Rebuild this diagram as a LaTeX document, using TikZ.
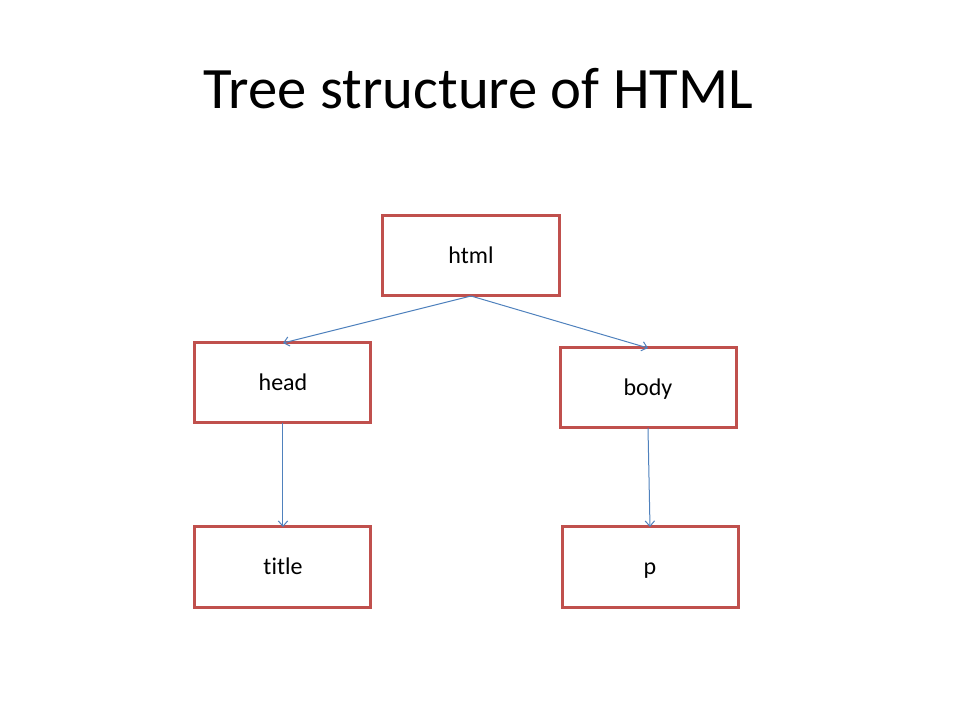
\documentclass[tikz,border=0pt]{standalone}
\usepackage{fontspec}
\setmainfont{Carlito}[Ligatures = NoCommon]
\usetikzlibrary{positioning,arrows.meta}
\definecolor{boxred}{HTML}{C0504D}
\definecolor{lineblue}{HTML}{4F81BD}
\begin{document}
\begin{tikzpicture}[box/.style = {draw = boxred, line width = 2.25pt, outer sep = 0pt, minimum width = 132pt, minimum height = 60pt, inner sep = 0pt, text height = 14pt, text depth = 2.8pt, font = \fontsize{18}{22}\selectfont},
                    link/.style = {draw = lineblue, line width = 0.75pt, -{Straight Barb[length = 4pt, width = 7pt]}}]
                \useasboundingbox (-353.25pt,192pt) rectangle (366.75pt,-348pt);
                \node[anchor = base] (heading) at (5.6pt,110.25pt) {\fontsize{44}{53}\selectfont Tree structure of HTML};
                \node[box] (html) at (0,0) {html};
                \node[box] (head) [below left = 35.25pt and 9pt of html] {head};
                \node[box] (body) [below right = 39pt and 0.75pt of html] {body};
                \node[box] (title) [below = 78pt of head] {title};
                \node[box] (p) [below = 74.25pt of body, xshift = 1.5pt] {p};

                \draw[link] (html.south) -- (head.north);
                \draw[link] (html.south) -- (body.north);
                \draw[link] (head.south) -- (title.north);
                \draw[link] (body.south) -- (p.north);

            \end{tikzpicture}
\end{document}
